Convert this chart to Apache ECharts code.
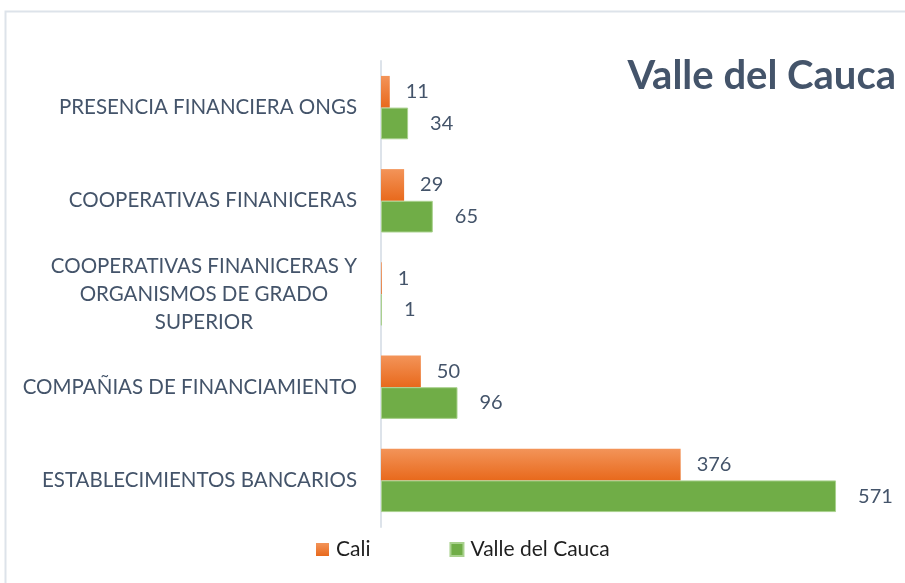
<!DOCTYPE html>
<html>
<head>
<meta charset="utf-8">
<script src="https://cdn.jsdelivr.net/npm/echarts@6/dist/echarts.min.js"></script>
<style>
  html, body { margin: 0; padding: 0; background: #fff; }
  #main { width: 905px; height: 583px; }
</style>
</head>
<body>
<div id="main"></div>
<script>
// categorias (de abajo hacia arriba)
var categorias = [
  "ESTABLECIMIENTOS BANCARIOS",
  "COMPAÑIAS DE FINANCIAMIENTO",
  "COOPERATIVAS FINANICERAS Y\nORGANISMOS DE GRADO\nSUPERIOR",
  "COOPERATIVAS FINANICERAS",
  "PRESENCIA FINANCIERA ONGS"
];
var cali = [376, 50, 1, 29, 11];
var valle = [571, 96, 1, 65, 34];

var txtColor = "#44546a";
var fuente = "Lato";

var myChart = echarts.init(document.getElementById("main"));
var option = {
  animation: false,
  title: {
    text: "Valle del Cauca",
    right: 4,
    top: 51,
    textStyle: { fontFamily: fuente, fontWeight: "bold", fontSize: 40, color: txtColor }
  },
  legend: {
    top: 534,
    left: 311,
    itemWidth: 13,
    itemHeight: 13,
    itemGap: 79,
    icon: "rect",
    textStyle: { fontFamily: fuente, fontSize: 21, color: "#1f1f1f", padding: [0, 0, 0, 2] },
    data: ["Cali", "Valle del Cauca"]
  },
  grid: {
    left: 381,
    top: 61,
    width: 518,
    height: 466,
    containLabel: false
  },
  xAxis: {
    type: "value",
    min: 0,
    max: 650,
    show: false
  },
  yAxis: {
    type: "category",
    data: categorias,
    axisLine: { show: true, lineStyle: { color: "#dde3ea", width: 2 } },
    axisTick: { show: false },
    axisLabel: {
      margin: 24,
      fontFamily: fuente,
      fontSize: 20.5,
      color: txtColor,
      align: "right",
      lineHeight: 28,
      formatter: function (v) {
        // lineas centradas dentro del bloque
        return v.split("\n").map(function (l) { return "{c|" + l + "}"; }).join("\n");
      },
      rich: {
        c: { align: "center", fontFamily: fuente, fontSize: 20.5, color: txtColor, lineHeight: 28 }
      }
    }
  },
  series: [
    {
      name: "Cali",
      type: "bar",
      data: cali,
      barGap: "0%",
      barCategoryGap: "32%",
      itemStyle: {
        color: new echarts.graphic.LinearGradient(0, 0, 0, 1, [
          { offset: 0, color: "#f39459" },
          { offset: 1, color: "#e8691c" }
        ])
      },
      label: {
        show: true,
        position: "right",
        distance: 16,
        fontFamily: fuente,
        fontSize: 20,
        color: txtColor
      }
    },
    {
      name: "Valle del Cauca",
      type: "bar",
      data: valle,
      itemStyle: { color: "#70ad47", borderColor: "#a9d18e", borderWidth: 1 },
      label: {
        show: true,
        position: "right",
        distance: 22,
        fontFamily: fuente,
        fontSize: 20,
        color: txtColor
      }
    }
  ],
  graphic: [
    {
      type: "rect",
      shape: { x: 5.5, y: 11.5, width: 1000, height: 1000 },
      style: { fill: "none", stroke: "#dde3ea", lineWidth: 2 },
      silent: true
    }
  ]
};
myChart.setOption(option);
</script>
</body>
</html>
